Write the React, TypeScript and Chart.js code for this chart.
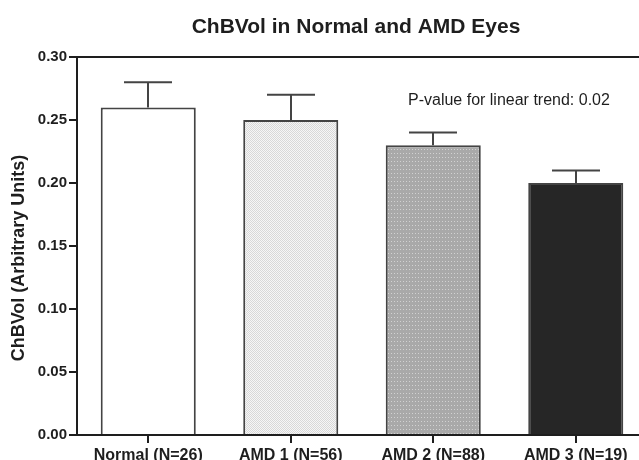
import React, { useEffect, useRef } from "react";
import { Chart, registerables } from "chart.js";

Chart.register(...registerables);

const title = "ChBVol in Normal and AMD Eyes";
const yAxisTitle = "ChBVol (Arbitrary Units)";
const annotation = "P-value for linear trend: 0.02";
const categories = ["Normal (N=26)", "AMD 1 (N=56)", "AMD 2 (N=88)", "AMD 3 (N=19)"];
const means = [0.26, 0.25, 0.23, 0.2];
const errors = [0.02, 0.02, 0.01, 0.01];
const yMin = 0;
const yMax = 0.3;
const yStep = 0.05;

const FONT = "'Liberation Sans', Arial, sans-serif";
const INK = "#1e1e1e";
const BAR_EDGE = "#444444";

function makePattern(size: [number, number], base: string, dot: string, dots: [number, number][]) {
  const c = document.createElement("canvas");
  c.width = size[0];
  c.height = size[1];
  const g = c.getContext("2d")!;
  g.fillStyle = base;
  g.fillRect(0, 0, size[0], size[1]);
  g.fillStyle = dot;
  dots.forEach(([x, y]) => g.fillRect(x, y, 1, 1));
  return g.createPattern(c, "repeat")!;
}

const overlayPlugin = {
  id: "overlay",
  afterDatasetsDraw(chart: any) {
    const ctx = chart.ctx as CanvasRenderingContext2D;
    const yScale = chart.scales.y;
    const meta = chart.getDatasetMeta(0);
    ctx.save();
    ctx.strokeStyle = BAR_EDGE;
    ctx.lineWidth = 2;
    meta.data.forEach((bar: any, i: number) => {
      const x = Math.round(bar.x);
      const yTop = yScale.getPixelForValue(means[i] + errors[i]);
      const yBar = yScale.getPixelForValue(means[i]);
      ctx.beginPath();
      ctx.moveTo(x, yBar);
      ctx.lineTo(x, yTop);
      ctx.moveTo(x - 24, yTop);
      ctx.lineTo(x + 24, yTop);
      ctx.stroke();
    });
    ctx.restore();
  },
  afterDraw(chart: any) {
    const ctx = chart.ctx as CanvasRenderingContext2D;
    ctx.save();
    ctx.fillStyle = INK;
    ctx.textAlign = "center";
    ctx.textBaseline = "alphabetic";
    ctx.font = `bold 21px ${FONT}`;
    ctx.fillText(title, 356, 33);

    ctx.textAlign = "left";
    ctx.font = `16px ${FONT}`;
    ctx.fillText(annotation, 408, 105);

    ctx.translate(24, 258);
    ctx.rotate(-Math.PI / 2);
    ctx.textAlign = "center";
    ctx.font = `bold 18px ${FONT}`;
    ctx.fillText(yAxisTitle, 0, 0);
    ctx.restore();
  },
};

export default function App() {
  const ref = useRef<HTMLCanvasElement | null>(null);

  useEffect(() => {
    if (!ref.current) return;
    const fills = [
      "#ffffff",
      makePattern([2, 2], "#f6f6f6", "#d8d8d8", [[0, 0], [1, 1]]),
      makePattern([3, 4], "#a9a9a9", "#d2d2d2", [[1, 1]]),
      "#262626",
    ];
    const chart = new Chart(ref.current, {
      type: "bar",
      data: {
        labels: categories,
        datasets: [
          {
            data: means,
            backgroundColor: fills as any,
            borderColor: BAR_EDGE,
            borderWidth: 2,
            borderSkipped: "bottom",
            categoryPercentage: 1,
            barPercentage: 0.667,
          },
        ],
      },
      options: {
        responsive: false,
        animation: false,
        devicePixelRatio: 1,
        layout: { padding: { top: 57, right: 65, left: 0, bottom: 0 } },
        plugins: {
          legend: { display: false },
          title: { display: false },
          tooltip: { enabled: false },
        },
        scales: {
          x: {
            afterFit: (s: any) => {
              s.height = 25;
            },
            grid: {
              display: true,
              drawOnChartArea: false,
              offset: false,
              tickLength: 8,
              tickColor: INK,
              tickWidth: 2,
              color: INK,
              lineWidth: 2,
            },
            border: { display: true, color: INK, width: 2 },
            ticks: {
              color: INK,
              font: { family: FONT, size: 16, weight: "bold" },
              padding: 3,
              maxRotation: 0,
              autoSkip: false,
            },
          },
          y: {
            min: yMin,
            max: yMax,
            afterFit: (s: any) => {
              s.width = 77;
            },
            grid: {
              display: true,
              drawOnChartArea: true,
              tickLength: 8,
              tickColor: INK,
              tickWidth: 2,
              lineWidth: 2,
              color: (c: any) =>
                c.tick && Math.abs(c.tick.value - yMax) < 1e-6 ? INK : "rgba(0,0,0,0)",
            },
            border: { display: true, color: INK, width: 2 },
            ticks: {
              stepSize: yStep,
              color: INK,
              padding: 2,
              font: { family: FONT, size: 15, weight: "bold" },
              callback: (v: any) => Number(v).toFixed(2),
            },
          },
        },
      },
      plugins: [overlayPlugin],
    });
    return () => chart.destroy();
  }, []);

  return (
    <div
      style={{
        position: "fixed",
        left: 0,
        top: 0,
        width: 639,
        height: 460,
        overflow: "hidden",
        background: "#ffffff",
      }}
    >
      <canvas ref={ref} width={712} height={460} style={{ width: 712, height: 460, display: "block" }} />
    </div>
  );
}
